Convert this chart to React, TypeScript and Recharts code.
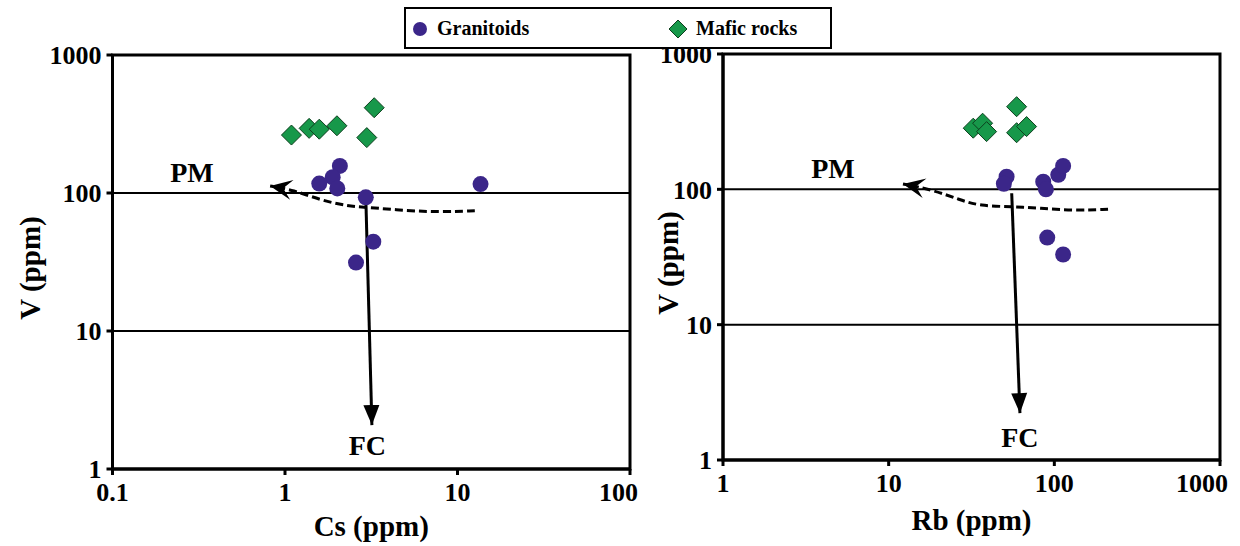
import React from "react";
import {
  ScatterChart,
  Scatter,
  XAxis,
  YAxis,
  CartesianGrid,
  ReferenceArea,
  ReferenceDot,
  Curve,
} from "recharts";

// ---- left panel: Cs vs V ----
const graniteCs = [2.08, 1.89, 1.58, 2.01, 2.94, 3.25, 2.58, 13.6];
const graniteVCs = [157, 130, 117, 108, 93, 44.4, 31.3, 116];
const maficCs = [1.09, 1.38, 1.58, 2.0, 3.29, 2.98];
const maficVCs = [263, 294, 290, 307, 415, 252];
const pmCs = [12.6, 7.92, 5.07, 2.98, 2.28, 1.6, 1.12, 0.82];
const pmVCs = [74.4, 72.8, 74.4, 78.8, 80.5, 89, 105, 112.4];
const fcCs = [2.94, 3.19];
const fcVCs = [93.6, 2.08];

// ---- right panel: Rb vs V ----
const graniteRb = [51.5, 49.6, 85.7, 89, 105.6, 113, 90.6, 113];
const graniteVRb = [124, 110, 114, 100, 128, 149, 44, 33];
const maficRb = [32.4, 36.9, 39.0, 59.2, 59.2, 68.0];
const maficVRb = [283, 308, 267, 408, 262, 291];
const pmRb = [211, 130, 81.9, 55.3, 35.6, 26.9, 18.6, 12.2];
const pmVRb = [71.3, 69.6, 72.5, 74.5, 75.4, 83.5, 99, 109.6];
const fcRb = [55.3, 62];
const fcVRb = [93.6, 2.22];

const vTicks = [1, 10, 100, 1000];
const csTicks = [0.1, 1, 10, 100];
const rbTicks = [1, 10, 100, 1000];

const FONT =
  '"Liberation Serif", "Times New Roman", Tinos, Times, "Nimbus Roman", "Noto Serif", "DejaVu Serif", serif';
const PURPLE = "#3b2689";
const GREEN = "#17984a";

const zip = (xs: number[], ys: number[]) => xs.map((x, i) => ({ x, y: ys[i] }));

const Dot = (p: any) => <circle cx={p.cx} cy={p.cy} r={8} fill={PURPLE} />;
const Diamond = (p: any) => {
  const s = 10;
  return (
    <polygon
      points={`${p.cx},${p.cy - s} ${p.cx + s},${p.cy} ${p.cx},${p.cy + s} ${p.cx - s},${p.cy}`}
      fill={GREEN}
      stroke="#0c3f1d"
      strokeWidth={1}
    />
  );
};
const NoShape = () => <g />;

// draw the curve and put an arrow head on its last point
const arrowLine = (dashed: boolean, notch: boolean) => (props: any) => {
  const pts = props.points || [];
  if (pts.length < 2) return <g />;
  const a = pts[pts.length - 2];
  const b = pts[pts.length - 1];
  const ang = Math.atan2(b.y - a.y, b.x - a.x);
  const len = notch ? 22 : 20;
  const half = notch ? 10 : 8;
  const bx = b.x - len * Math.cos(ang);
  const by = b.y - len * Math.sin(ang);
  const nx = -Math.sin(ang) * half;
  const ny = Math.cos(ang) * half;
  const back = notch ? len * 0.6 : len;
  const mx = b.x - back * Math.cos(ang);
  const my = b.y - back * Math.sin(ang);
  return (
    <g>
      <Curve
        points={pts}
        type={dashed ? "basis" : "linear"}
        stroke="#000"
        strokeWidth={3}
        strokeDasharray={dashed ? "8 4" : undefined}
        fill="none"
      />
      <polygon
        points={`${b.x},${b.y} ${bx + nx},${by + ny} ${mx},${my} ${bx - nx},${by - ny}`}
        fill="#000"
      />
    </g>
  );
};

const tickStyle = { fill: "#000", fontSize: 26, fontWeight: 700, fontFamily: FONT };

const XTick = (p: any) => {
  const last = p.index === p.visibleTicksCount - 1;
  return (
    <text
      x={last ? p.x + 8 : p.x}
      y={p.y}
      dy="0.71em"
      textAnchor={last ? "end" : "middle"}
      {...tickStyle}
    >
      {p.payload.value}
    </text>
  );
};

const yTitle = (dx: number) => (p: any) => {
  const vb = p.viewBox;
  const cx = vb.x + dx;
  const cy = vb.y + vb.height / 2 + 6;
  return (
    <text
      x={cx}
      y={cy}
      transform={`rotate(-90 ${cx} ${cy})`}
      textAnchor="middle"
      dominantBaseline="central"
      fill="#000"
      fontSize={29}
      fontWeight={700}
      fontFamily={FONT}
    >
      V (ppm)
    </text>
  );
};

const xTitle = (text: string, dy: number) => (p: any) => {
  const vb = p.viewBox;
  return (
    <text
      x={vb.x + vb.width / 2}
      y={vb.y + dy}
      textAnchor="middle"
      dominantBaseline="central"
      fill="#000"
      fontSize={29}
      fontWeight={700}
      fontFamily={FONT}
    >
      {text}
    </text>
  );
};

const noteLabel = (value: string) => ({
  value,
  position: "center" as const,
  fill: "#000",
  fontSize: 28,
  fontWeight: 700,
  fontFamily: FONT,
});

type PanelProps = {
  width: number;
  margin: { top: number; right: number; bottom: number; left: number };
  yWidth: number;
  xDomain: [number, number];
  xTicks: number[];
  xName: string;
  xTitleDy: number;
  yTitleDx: number;
  granite: { x: number; y: number }[];
  mafic: { x: number; y: number }[];
  pm: { x: number; y: number }[];
  fc: { x: number; y: number }[];
  pmLabel: { x: number; y: number };
  fcLabel: { x: number; y: number };
};

function Panel(props: PanelProps) {
  return (
    <ScatterChart width={props.width} height={546} margin={props.margin}>
      <CartesianGrid horizontal vertical={false} stroke="#000" strokeWidth={2} />
      <XAxis
        type="number"
        dataKey="x"
        scale="log"
        domain={props.xDomain}
        ticks={props.xTicks}
        interval={0}
        allowDataOverflow
        height={60}
        stroke="#000"
        strokeWidth={3}
        tickSize={6}
        tickMargin={8}
        tick={<XTick />}
        label={{ content: xTitle(props.xName, props.xTitleDy) }}
      />
      <YAxis
        type="number"
        dataKey="y"
        scale="log"
        domain={[1, 1000]}
        ticks={vTicks}
        interval={0}
        allowDataOverflow
        width={props.yWidth}
        stroke="#000"
        strokeWidth={3}
        tickSize={6}
        tickMargin={5}
        tick={tickStyle}
        label={{ content: yTitle(props.yTitleDx) }}
      />
      <ReferenceArea
        x1={props.xDomain[0]}
        x2={props.xDomain[1]}
        y1={1}
        y2={1000}
        fill="none"
        fillOpacity={0}
        stroke="#000"
        strokeWidth={3}
      />
      <Scatter
        data={props.pm}
        shape={NoShape}
        line={arrowLine(true, true)}
        isAnimationActive={false}
      />
      <Scatter
        data={props.fc}
        shape={NoShape}
        line={arrowLine(false, false)}
        isAnimationActive={false}
      />
      <Scatter data={props.mafic} shape={Diamond} isAnimationActive={false} />
      <Scatter data={props.granite} shape={Dot} isAnimationActive={false} />
      <ReferenceDot
        x={props.pmLabel.x}
        y={props.pmLabel.y}
        r={0}
        fill="none"
        stroke="none"
        label={noteLabel("PM")}
      />
      <ReferenceDot
        x={props.fcLabel.x}
        y={props.fcLabel.y}
        r={0}
        fill="none"
        stroke="none"
        label={noteLabel("FC")}
      />
    </ScatterChart>
  );
}

function Legend() {
  const text = { fontFamily: FONT, fontWeight: 700, fontSize: 20, color: "#000" };
  return (
    <div
      style={{
        position: "absolute",
        left: 404,
        top: 7,
        width: 424,
        height: 38,
        border: "2px solid #000",
        background: "#fff",
      }}
    >
      <svg width={20} height={20} style={{ position: "absolute", left: 4, top: 10 }}>
        <circle cx={10} cy={10} r={7} fill={PURPLE} />
      </svg>
      <span style={{ ...text, position: "absolute", left: 31, top: 8 }}>Granitoids</span>
      <svg width={22} height={22} style={{ position: "absolute", left: 261, top: 9 }}>
        <polygon points="11,2 20,11 11,20 2,11" fill={GREEN} stroke="#0c3f1d" strokeWidth={1} />
      </svg>
      <span style={{ ...text, position: "absolute", left: 290, top: 8 }}>Mafic rocks</span>
    </div>
  );
}

export default function App() {
  return (
    <div
      style={{
        position: "absolute",
        left: 0,
        top: 0,
        width: 1240,
        height: 546,
        background: "#fff",
        overflow: "hidden",
      }}
    >
      <div style={{ position: "absolute", left: 0, top: 0 }}>
        <Panel
          width={640}
          margin={{ top: 55, right: 10, bottom: 17, left: 10 }}
          yWidth={102.5}
          xDomain={[0.1, 100]}
          xTicks={csTicks}
          xName="Cs (ppm)"
          xTitleDy={57}
          yTitleDx={20}
          granite={zip(graniteCs, graniteVCs)}
          mafic={zip(maficCs, maficVCs)}
          pm={zip(pmCs, pmVCs)}
          fc={zip(fcCs, fcVCs)}
          pmLabel={{ x: 0.289, y: 142 }}
          fcLabel={{ x: 3.0, y: 1.49 }}
        />
      </div>
      <div style={{ position: "absolute", left: 640, top: 0 }}>
        <Panel
          width={600}
          margin={{ top: 54, right: 20, bottom: 26, left: 10 }}
          yWidth={73}
          xDomain={[1, 1000]}
          xTicks={rbTicks}
          xName="Rb (ppm)"
          xTitleDy={60}
          yTitleDx={18}
          granite={zip(graniteRb, graniteVRb)}
          mafic={zip(maficRb, maficVRb)}
          pm={zip(pmRb, pmVRb)}
          fc={zip(fcRb, fcVRb)}
          pmLabel={{ x: 4.61, y: 144 }}
          fcLabel={{ x: 62, y: 1.48 }}
        />
      </div>
      <Legend />
    </div>
  );
}
